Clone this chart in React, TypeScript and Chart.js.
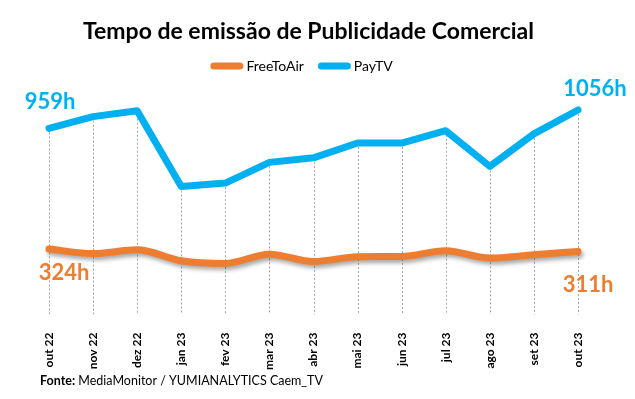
import React, { useEffect, useRef } from "react";
import { Chart, registerables } from "chart.js";

Chart.register(...registerables);

const categories = ["out 22", "nov 22", "dez 22", "jan 23", "fev 23", "mar 23", "abr 23", "mai 23", "jun 23", "jul 23", "ago 23", "set 23", "out 23"];
const freeToAir = [324, 300, 320, 262, 248, 297, 258, 283, 285, 315, 276, 294, 311];
const payTV = [959, 1021, 1052, 653, 671, 780, 804, 882, 882, 947, 759, 930, 1056];
const seriesNames = ["FreeToAir", "PayTV"];
const chartTitle = "Tempo de emissão de Publicidade Comercial";
const sourceBold = "Fonte:";
const sourceText = " MediaMonitor / YUMIANALYTICS Caem_TV";
const unit = "h";

const FONT = "Lato, 'Open Sans', sans-serif";
const ORANGE = "#ED7D31";
const BLUE = "#00B0F0";

const dropLines = {
  id: "dropLines",
  beforeDatasetsDraw(chart: any) {
    const { ctx, chartArea } = chart;
    const m0 = chart.getDatasetMeta(0);
    const m1 = chart.getDatasetMeta(1);
    ctx.save();
    ctx.strokeStyle = "#a6a6a6";
    ctx.lineWidth = 1;
    ctx.setLineDash([2, 2]);
    m0.data.forEach((p: any, i: number) => {
      const q = m1.data[i];
      const top = Math.min(p.y, q.y);
      const x = Math.round(p.x) + 0.5;
      ctx.beginPath();
      ctx.moveTo(x, top);
      ctx.lineTo(x, chartArea.bottom + 4);
      ctx.stroke();
    });
    ctx.restore();
  },
};

const shadow = {
  id: "lineShadow",
  beforeDatasetDraw(chart: any, args: any) {
    if (args.index !== 0) return;
    const ctx = chart.ctx;
    ctx.save();
    ctx.shadowColor = "rgba(0,0,0,0.35)";
    ctx.shadowBlur = 4;
    ctx.shadowOffsetX = 2;
    ctx.shadowOffsetY = 3;
  },
  afterDatasetDraw(chart: any, args: any) {
    if (args.index !== 0) return;
    chart.ctx.restore();
  },
};

function roundedBar(ctx: CanvasRenderingContext2D, x: number, y: number, w: number, h: number) {
  const r = h / 2;
  ctx.beginPath();
  ctx.moveTo(x + r, y);
  ctx.lineTo(x + w - r, y);
  ctx.arc(x + w - r, y + r, r, -Math.PI / 2, Math.PI / 2);
  ctx.lineTo(x + r, y + h);
  ctx.arc(x + r, y + r, r, Math.PI / 2, (3 * Math.PI) / 2);
  ctx.closePath();
  ctx.fill();
}

const extras = {
  id: "extras",
  afterDraw(chart: any) {
    const { ctx } = chart;
    const m0 = chart.getDatasetMeta(0);
    const m1 = chart.getDatasetMeta(1);
    const last = categories.length - 1;
    ctx.save();

    // legend
    ctx.font = `14px ${FONT}`;
    ctx.textBaseline = "middle";
    ctx.textAlign = "left";
    const markW = 33, markH = 7, gapText = 3, gapItem = 14;
    const colors = [ORANGE, BLUE];
    const widths = seriesNames.map((n) => markW + gapText + ctx.measureText(n).width);
    const total = widths.reduce((a, b) => a + b, 0) + gapItem * (widths.length - 1);
    let lx = 301.5 - total / 2;
    const ly = 66;
    seriesNames.forEach((n, i) => {
      ctx.fillStyle = colors[i];
      roundedBar(ctx, lx, ly - markH / 2, markW, markH);
      ctx.fillStyle = "#000";
      ctx.fillText(n, lx + markW + gapText, ly);
      lx += widths[i] + gapItem;
    });

    // end labels
    ctx.font = `bold 22px ${FONT}`;
    ctx.textAlign = "center";
    ctx.fillStyle = BLUE;
    ctx.fillText(payTV[0] + unit, m1.data[0].x + 1, m1.data[0].y - 26);
    ctx.fillText(payTV[last] + unit, m1.data[last].x + 17, m1.data[last].y - 21);
    ctx.fillStyle = ORANGE;
    ctx.fillText(freeToAir[0] + unit, m0.data[0].x + 15, m0.data[0].y + 24);
    ctx.fillText(freeToAir[last] + unit, m0.data[last].x + 10, m0.data[last].y + 33);

    // footer
    ctx.textAlign = "left";
    ctx.fillStyle = "#000";
    ctx.font = `bold 12.5px ${FONT}`;
    ctx.fillText(sourceBold, 40, 381);
    const w = ctx.measureText(sourceBold).width;
    ctx.font = `12.5px ${FONT}`;
    ctx.fillText(sourceText, 40 + w, 381);
    ctx.restore();
  },
};

export default function App() {
  const ref = useRef<HTMLCanvasElement>(null);
  useEffect(() => {
    document.body.style.margin = "0";
    const chart = new Chart(ref.current!, {
      type: "line",
      data: {
        labels: categories,
        datasets: [
          {
            label: seriesNames[0],
            data: freeToAir,
            borderColor: ORANGE,
            backgroundColor: ORANGE,
            borderWidth: 7,
            borderCapStyle: "round",
            borderJoinStyle: "round",
            tension: 0.4,
            cubicInterpolationMode: "monotone",
            pointRadius: 0,
            clip: false,
          },
          {
            label: seriesNames[1],
            data: payTV,
            borderColor: BLUE,
            backgroundColor: BLUE,
            borderWidth: 7,
            borderCapStyle: "round",
            borderJoinStyle: "round",
            tension: 0,
            pointRadius: 0,
            clip: false,
          },
        ],
      },
      options: {
        responsive: false,
        animation: false,
        layout: { padding: { left: 39, right: 57, top: 0, bottom: 15 } },
        plugins: {
          title: {
            display: true,
            text: chartTitle,
            color: "#000",
            font: { family: FONT, size: 23, weight: "bold" },
            padding: { top: 18, bottom: 37 },
          },
          legend: { display: false },
          tooltip: { enabled: false },
        },
        scales: {
          x: {
            offset: false,
            grid: { display: false },
            border: { display: false },
            ticks: {
              color: "#000",
              font: { family: FONT, size: 12, weight: "bold" },
              minRotation: 90,
              maxRotation: 90,
              padding: 14,
              autoSkip: false,
            },
          },
          y: {
            display: true,
            min: 0,
            max: 1200,
            grid: { display: false },
            border: { display: false },
            ticks: { display: false },
            afterFit: (s: any) => {
              s.width = 10;
            },
          },
        },
      },
      plugins: [dropLines, shadow, extras],
    });
    return () => chart.destroy();
  }, []);
  return (
    <div style={{ position: "absolute", left: 0, top: 0, width: 635, height: 399, background: "#fff" }}>
      <canvas ref={ref} width={635} height={399} />
    </div>
  );
}
